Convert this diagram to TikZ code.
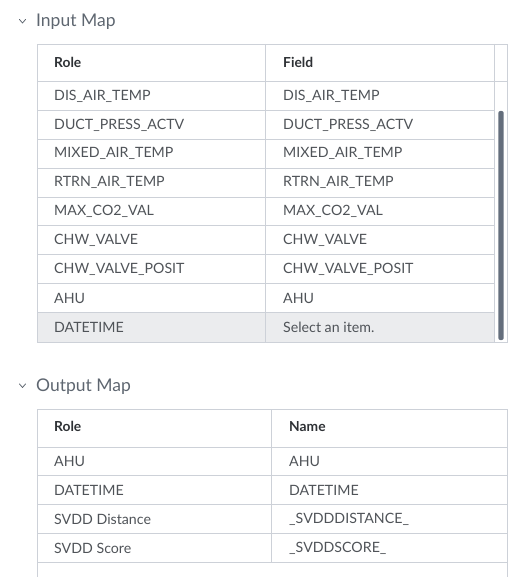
\documentclass[tikz,border=0pt]{standalone}
\usepackage{fontspec}
\setmainfont{Lato}
\definecolor{gridline}{HTML}{CDD1D8}
\definecolor{celltext}{HTML}{4F5358}
\definecolor{headtext}{HTML}{2E3135}
\definecolor{titletext}{HTML}{5E6670}
\definecolor{selfill}{HTML}{EBECEE}
\definecolor{thumb}{HTML}{646E7C}
\tikzset{
  gline/.style={draw=gridline, line width=0.9pt},
  celltxt/.style={anchor=west, inner sep=0pt, text=celltext, font=\fontsize{14.2}{16}\selectfont},
  headtxt/.style={anchor=west, inner sep=0pt, text=headtext, font=\fontsize{13.8}{16}\selectfont\bfseries},
  titletxt/.style={anchor=west, inner sep=0pt, text=titletext, font=\fontsize{17.5}{20}\selectfont},
  chev/.style={draw=titletext, line width=0.8pt, line cap=round, line join=round}
}
\begin{document}
\begin{tikzpicture}[x=1pt,y=-1pt]
\useasboundingbox (0,0) rectangle (517,577);
% ---------- Input Map ----------
\draw[chev] (19.5,19.5) -- (22.5,23) -- (25.5,19.5);
\node[titletxt] (inTitle) at (36,21.5) {Input Map};
% selected row fill
\fill[selfill] (37,313.3) rectangle (494.3,342.5);
% table grid
\draw[gline] (37,44) rectangle (507.7,342.5);
\draw[gline] (37,81.5) -- (507.7,81.5);
\draw[gline] (265.5,44) -- (265.5,342.5);
\draw[gline] (494.3,44) -- (494.3,342.5);
\foreach \i in {1,...,8}{
  \draw[gline] (37,{81.5+28.875*\i}) -- (494.3,{81.5+28.875*\i});
}
% scrollbar thumb
\fill[thumb, rounded corners=2pt] (498.3,111) rectangle (503.7,340);
% header
\node[headtxt] (inRoleH) at (54,62) {Role};
\node[headtxt] (inFieldH) at (283,62) {Field};
% rows
\foreach \txt/\fld [count=\k from 0] in {
  DIS\_AIR\_TEMP/DIS\_AIR\_TEMP,
  DUCT\_PRESS\_ACTV/DUCT\_PRESS\_ACTV,
  MIXED\_AIR\_TEMP/MIXED\_AIR\_TEMP,
  RTRN\_AIR\_TEMP/RTRN\_AIR\_TEMP,
  MAX\_CO2\_VAL/MAX\_CO2\_VAL,
  CHW\_VALVE/CHW\_VALVE,
  CHW\_VALVE\_POSIT/CHW\_VALVE\_POSIT,
  AHU/AHU,
  DATETIME/Select an item.}{
  \node[celltxt] (inRole\k) at (54,{96+28.875*\k}) {\txt};
  \node[celltxt] (inField\k) at (283,{96+28.875*\k}) {\fld};
}
% ---------- Output Map ----------
\draw[chev] (19.5,384) -- (22.5,387.5) -- (25.5,384);
\node[titletxt] (outTitle) at (36,386.5) {Output Map};
\draw[gline] (37,577.5) -- (37,409) -- (507.7,409) -- (507.7,577.5);
\draw[gline] (37,447) -- (507.7,447);
\draw[gline] (271.7,409) -- (271.7,562.7);
\foreach \i in {1,...,4}{
  \draw[gline] (37,{447+28.9*\i}) -- (507.7,{447+28.9*\i});
}
\node[headtxt] (outRoleH) at (54,426.5) {Role};
\node[headtxt] (outNameH) at (289,426.5) {Name};
\foreach \txt/\nm [count=\k from 0] in {
  AHU/AHU,
  DATETIME/DATETIME,
  SVDD Distance/\_SVDDDISTANCE\_,
  SVDD Score/\_SVDDSCORE\_}{
  \node[celltxt] (outRole\k) at (54,{461.5+28.9*\k}) {\txt};
  \node[celltxt] (outName\k) at (289,{461.5+28.9*\k}) {\nm};
}
\end{tikzpicture}
\end{document}
